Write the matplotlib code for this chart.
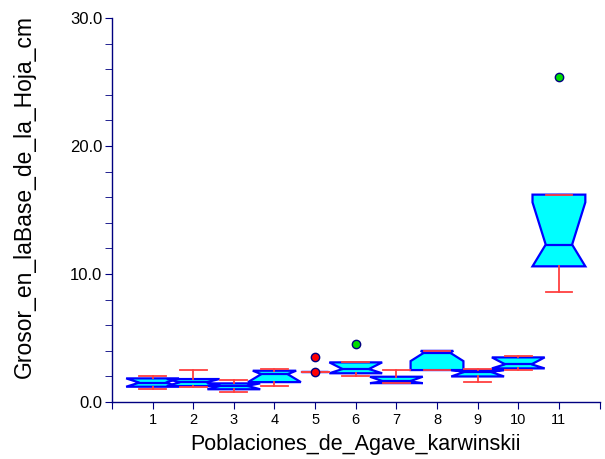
import matplotlib as mpl
mpl.use('Agg')
import matplotlib.pyplot as plt
from matplotlib.ticker import MultipleLocator, FixedLocator

plt.rcParams['font.family'] = ['Liberation Sans', 'DejaVu Sans']

# notched box summary per population
groups = [1, 2, 3, 4, 5, 6, 7, 8, 9, 10, 11]
whislo = [1.00, 1.20, 0.78, 1.27, 2.35, 2.00, 1.48, 2.50, 1.60, 2.50, 8.60]
q1 = [1.20, 1.25, 1.00, 1.56, 2.35, 2.25, 1.48, 2.50, 2.00, 2.63, 10.60]
med = [1.52, 1.55, 1.27, 2.18, 2.35, 2.58, 1.62, 3.85, 2.36, 2.95, 12.30]
q3 = [1.85, 1.80, 1.46, 2.45, 2.35, 3.10, 1.98, 4.00, 2.50, 3.49, 16.20]
whishi = [2.03, 2.50, 1.69, 2.58, 2.35, 3.10, 2.50, 4.00, 2.55, 3.59, 16.20]
cilo = [1.20, 1.25, 1.00, 1.56, 2.35, 2.25, 1.48, 3.20, 2.00, 2.63, 10.60]
cihi = [1.85, 1.80, 1.46, 2.60, 2.35, 3.10, 1.98, 4.50, 2.50, 3.49, 15.60]
near_out = {5: [3.55, 2.37]}
far_out = {6: [4.53], 11: [25.4]}

box_w = 1.3
cap_w = 0.66
notch_frac = 0.5


def half_width(y, m, lo, hi, w):
    # full width outside the notch, narrowing linearly to the median
    if y <= m:
        if lo >= m:
            return w * notch_frac
        t = (m - y) / (m - lo)
    else:
        if hi <= m:
            return w * notch_frac
        t = (y - m) / (hi - m)
    t = min(max(t, 0.0), 1.0)
    return w * (notch_frac + (1 - notch_frac) * t)


fig = plt.figure(figsize=(6.05, 4.59), dpi=100)
ax = fig.add_axes([0.185, 0.124, 0.806, 0.837])

for i, x in enumerate(groups):
    a, m, b = q1[i], med[i], q3[i]
    lo, hi = cilo[i], cihi[i]
    hw = box_w / 2
    ys = [a, max(lo, a), m, min(hi, b), b]
    ws = [half_width(y, m, lo, hi, hw) for y in ys]
    left = [(x - w, y) for w, y in zip(ws, ys)]
    right = [(x + w, y) for w, y in zip(ws, ys)][::-1]
    px = [p[0] for p in left + right]
    py = [p[1] for p in left + right]
    ax.fill(px, py, facecolor='#00ffff', edgecolor='#0000ff',
            linewidth=1.6, zorder=2 + i * 0.01)
    ax.plot([x - ws[2], x + ws[2]], [m, m], color='#0000ff', lw=1.6,
            zorder=2 + i * 0.01)
    # whiskers and caps
    ax.plot([x, x], [whislo[i], a], color='#ff4040', lw=1.3, zorder=3)
    ax.plot([x, x], [b, whishi[i]], color='#ff4040', lw=1.3, zorder=3)
    ax.plot([x - cap_w / 2, x + cap_w / 2], [whislo[i]] * 2,
            color='#ff4040', lw=1.3, zorder=3)
    ax.plot([x - cap_w / 2, x + cap_w / 2], [whishi[i]] * 2,
            color='#ff4040', lw=1.3, zorder=3)

for x, vals in near_out.items():
    ax.plot([x] * len(vals), vals, 'o', ms=6, mfc='#ff0000',
            mec='#000080', mew=1.0, zorder=4)
for x, vals in far_out.items():
    ax.plot([x] * len(vals), vals, 'o', ms=6, mfc='#00dd00',
            mec='#000080', mew=1.0, zorder=4)

ax.set_xlim(0, 12)
ax.set_ylim(0, 30)
for s in ['top', 'right']:
    ax.spines[s].set_visible(False)
for s in ['left', 'bottom']:
    ax.spines[s].set_color('#000080')
    ax.spines[s].set_linewidth(1.0)

ax.xaxis.set_major_locator(FixedLocator(range(0, 13)))
ax.set_xticklabels([''] + [str(g) for g in groups] + [''])
ax.yaxis.set_major_locator(MultipleLocator(10))
ax.yaxis.set_minor_locator(MultipleLocator(2))
ax.yaxis.set_major_formatter(mpl.ticker.FormatStrFormatter('%.1f'))
ax.tick_params(axis='both', which='both', direction='out', length=5,
               color='#000080', labelsize=12, pad=2)
ax.tick_params(axis='x', labelsize=10.5, pad=3)

ax.set_xlabel('Poblaciones_de_Agave_karwinskii', fontsize=15.5, labelpad=5)
ax.set_ylabel('Grosor_en_laBase_de_la_Hoja_cm', fontsize=16.5)
ax.yaxis.set_label_coords(-0.156, 0.534)

plt.savefig('out.png', dpi=100)
plt.close('all')
